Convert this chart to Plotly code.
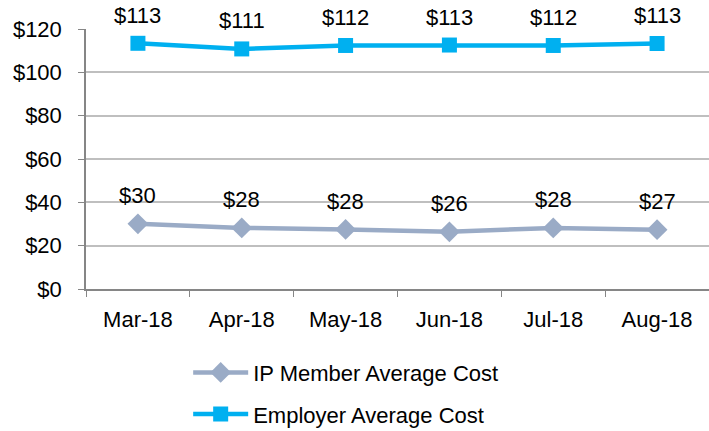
import plotly.graph_objects as go

months = ["Mar-18", "Apr-18", "May-18", "Jun-18", "Jul-18", "Aug-18"]
ip_member = [30.1, 28.2, 27.5, 26.4, 28.2, 27.4]
employer = [113.4, 110.8, 112.4, 112.6, 112.4, 113.3]
y_ticks = [0, 20, 40, 60, 80, 100, 120]
y_tick_labels = ["$" + str(v) for v in y_ticks]

IP_COLOR = "#9AABC6"
EMP_COLOR = "#00B0F0"
FONT = "Arial, Liberation Sans, sans-serif"
FS = 22

fig = go.Figure()
fig.add_trace(go.Scatter(
    x=months, y=ip_member, mode="lines+markers", name="IP Member Average Cost",
    line=dict(color=IP_COLOR, width=4.5),
    marker=dict(symbol="diamond", size=16, color=IP_COLOR),
    legendgroup="a",
))
fig.add_trace(go.Scatter(
    x=months, y=employer, mode="lines+markers", name="Employer Average Cost",
    line=dict(color=EMP_COLOR, width=4.5),
    marker=dict(symbol="square", size=15, color=EMP_COLOR),
    legendgroup="b",
))

annotations = []
for series in (ip_member, employer):
    for m, v in zip(months, series):
        annotations.append(dict(
            x=m, y=v, text="$" + str(round(v)), showarrow=False,
            yshift=28, font=dict(size=FS, color="#000000", family=FONT),
        ))

fig.update_layout(
    width=709, height=431,
    margin=dict(l=86, r=0, t=29, b=142, autoexpand=False),
    paper_bgcolor="white", plot_bgcolor="white",
    font=dict(family=FONT, size=FS, color="#000000"),
    annotations=annotations,
    showlegend=True,
    legend=dict(
        x=0.164, y=-0.241, xanchor="left", yanchor="top",
        orientation="v", font=dict(size=FS, color="#000000"),
        tracegroupgap=10, itemwidth=55,
    ),
    xaxis=dict(
        type="category", tickson="boundaries", ticks="outside", ticklen=6,
        tickcolor="#868686", showline=True, linecolor="#868686", linewidth=1.5,
        showgrid=False, tickfont=dict(size=FS), range=[-0.5, 5.5],
        ticklabelstandoff=10,
    ),
    yaxis=dict(
        range=[0, 120], tickvals=y_ticks, ticktext=y_tick_labels,
        ticks="outside", ticklen=6, tickcolor="#868686",
        showline=True, linecolor="#868686", linewidth=1.5,
        showgrid=True, gridcolor="#BFBFBF", gridwidth=1.5,
        tickfont=dict(size=FS), zeroline=False, ticklabelstandoff=12,
    ),
)

fig.write_html(
    "out.html",
    config={"displayModeBar": False},
    post_script="document.body.style.margin='0';document.body.style.padding='0';",
)
